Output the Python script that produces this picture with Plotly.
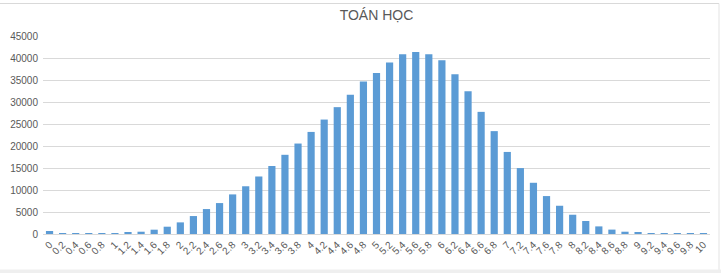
import plotly.graph_objects as go

categories = ["0", "0.2", "0.4", "0.6", "0.8", "1", "1.2", "1.4", "1.6", "1.8",
              "2", "2.2", "2.4", "2.6", "2.8", "3", "3.2", "3.4", "3.6", "3.8",
              "4", "4.2", "4.4", "4.6", "4.8", "5", "5.2", "5.4", "5.6", "5.8",
              "6", "6.2", "6.4", "6.6", "6.8", "7", "7.2", "7.4", "7.6", "7.8",
              "8", "8.2", "8.4", "8.6", "8.8", "9", "9.2", "9.4", "9.6", "9.8", "10"]

counts = [680, 2, 3, 15, 40, 90, 290, 520, 980, 1660,
          2640, 4080, 5670, 7030, 9000, 10850, 13070, 15450, 18000, 20560,
          23200, 26010, 28830, 31620, 34640, 36600, 38950, 40860, 41380, 40860,
          39500, 36320, 32460, 27760, 23380, 18650, 14980, 11640, 8620, 6420,
          4380, 2950, 1730, 1000, 520, 300, 160, 80, 40, 12, 5]

y_ticks = [0, 5000, 10000, 15000, 20000, 25000, 30000, 35000, 40000, 45000]
y_tick_labels = [str(v) for v in y_ticks]

title_text = "TOÁN HỌC"

W, H = 721, 273
ML, MR, MT, MB = 43, 11, 36, 39
pw = W - ML - MR
ph = H - MT - MB


def px_x(px):
    return (px - ML) / pw


def px_y(py):
    return (H - MB - py) / ph


fig = go.Figure()
fig.add_trace(go.Bar(
    x=categories, y=counts,
    marker=dict(color="#5B9BD5", line=dict(width=0)),
))

fig.update_layout(
    width=W, height=H,
    margin=dict(l=ML, r=MR, t=MT, b=MB),
    paper_bgcolor="white", plot_bgcolor="white",
    bargap=0.45,
    showlegend=False,
    font=dict(family="Liberation Sans, Arial, sans-serif", color="#595959", size=10),
    title=dict(text=title_text, x=0.5, xanchor="center", xref="paper",
               y=1 - 15 / H, yanchor="middle", yref="container",
               font=dict(size=14, color="#595959")),
    xaxis=dict(type="category", tickangle=-45, showgrid=False,
               showline=True, linecolor="#D9D9D9", linewidth=1,
               ticks="", tickfont=dict(size=10, color="#595959")),
    yaxis=dict(range=[0, 45000], tickvals=y_ticks, ticktext=y_tick_labels,
               showgrid=True, gridcolor="#D9D9D9", gridwidth=1, zeroline=False,
               ticks="", ticklabelstandoff=4,
               tickfont=dict(size=10, color="#595959")),
    shapes=[
        dict(type="line", xref="paper", yref="paper",
             x0=px_x(0), x1=px_x(719), y0=px_y(3.5), y1=px_y(3.5),
             line=dict(color="#D9D9D9", width=1)),
        dict(type="line", xref="paper", yref="paper",
             x0=px_x(719), x1=px_x(719), y0=px_y(3.5), y1=px_y(270),
             line=dict(color="#E3E3E3", width=1)),
        dict(type="rect", xref="paper", yref="paper",
             x0=px_x(0), x1=px_x(721), y0=px_y(273), y1=px_y(269.5),
             fillcolor="#EFEFEF", line=dict(width=0)),
    ],
)

fig.write_html("out.html")
